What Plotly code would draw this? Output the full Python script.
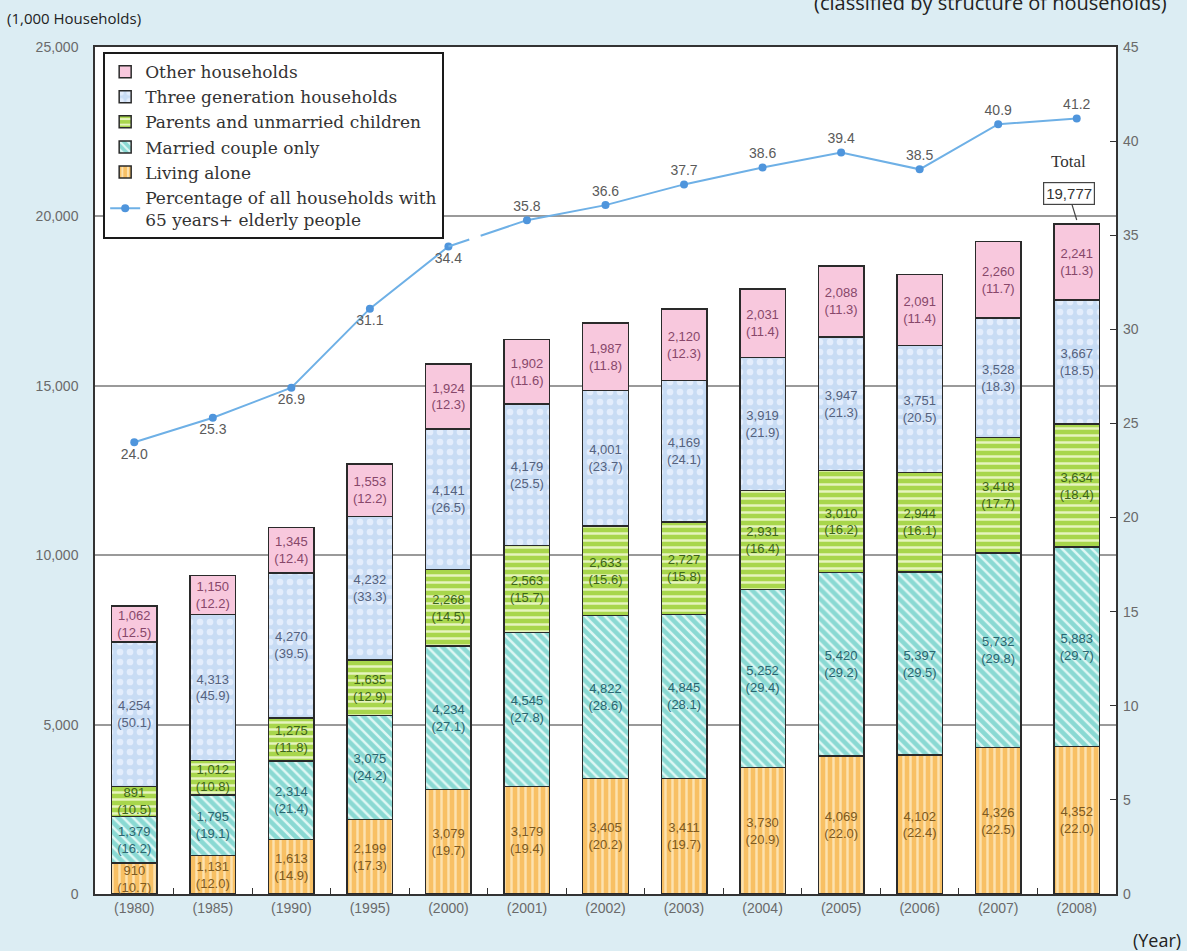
import plotly.graph_objects as go

years = ["1980", "1985", "1990", "1995", "2000", "2001", "2002", "2003", "2004", "2005", "2006", "2007", "2008"]

living_alone = [910, 1131, 1613, 2199, 3079, 3179, 3405, 3411, 3730, 4069, 4102, 4326, 4352]
living_alone_pct = [10.7, 12.0, 14.9, 17.3, 19.7, 19.4, 20.2, 19.7, 20.9, 22.0, 22.4, 22.5, 22.0]

married_couple = [1379, 1795, 2314, 3075, 4234, 4545, 4822, 4845, 5252, 5420, 5397, 5732, 5883]
married_couple_pct = [16.2, 19.1, 21.4, 24.2, 27.1, 27.8, 28.6, 28.1, 29.4, 29.2, 29.5, 29.8, 29.7]

parents_children = [891, 1012, 1275, 1635, 2268, 2563, 2633, 2727, 2931, 3010, 2944, 3418, 3634]
parents_children_pct = [10.5, 10.8, 11.8, 12.9, 14.5, 15.7, 15.6, 15.8, 16.4, 16.2, 16.1, 17.7, 18.4]

three_generation = [4254, 4313, 4270, 4232, 4141, 4179, 4001, 4169, 3919, 3947, 3751, 3528, 3667]
three_generation_pct = [50.1, 45.9, 39.5, 33.3, 26.5, 25.5, 23.7, 24.1, 21.9, 21.3, 20.5, 18.3, 18.5]

other = [1062, 1150, 1345, 1553, 1924, 1902, 1987, 2120, 2031, 2088, 2091, 2260, 2241]
other_pct = [12.5, 12.2, 12.4, 12.2, 12.3, 11.6, 11.8, 12.3, 11.4, 11.3, 11.4, 11.7, 11.3]

elderly_pct = [24.0, 25.3, 26.9, 31.1, 34.4, 35.8, 36.6, 37.7, 38.6, 39.4, 38.5, 40.9, 41.2]

x_labels = [f"({y})" for y in years]

series = [
    ("Living alone", living_alone, living_alone_pct, "#f8c064", "|", "#fde6b8", 0.9, 7, "#7d5a22", 5),
    ("Married couple only", married_couple, married_couple_pct, "#8ad9d3", "\\", "#e8fbf8", 0.9, 7, "#2b6670", 4),
    ("Parents and unmarried children", parents_children, parents_children_pct, "#a8d64c", "-", "#eef8cc", 0.9, 7, "#3c6418", 3),
    ("Three generation households", three_generation, three_generation_pct, "#c8dcf4", ".", "#eef4ff", 0.7, 10, "#55627e", 2),
    ("Other households", other, other_pct, "#f8c8dd", "", "#ffffff", 1.0, 7, "#87476a", 1),
]

fig = go.Figure()

for name, vals, pcts, color, shape, fg, fgop, psize, tcol, rank in series:
    texts = [f"{v:,}<br>({p:.1f})" for v, p in zip(vals, pcts)]
    marker = dict(color=color, line=dict(color="#2a2a2a", width=1.5))
    if shape:
        marker["pattern"] = dict(shape=shape, fgcolor=fg, fillmode="overlay", size=psize,
                                 solidity=0.35, fgopacity=fgop)
    fig.add_trace(go.Bar(
        x=x_labels, y=vals, name=name, marker=marker,
        text=texts, textposition="inside", insidetextanchor="middle",
        textangle=0, constraintext="none",
        textfont=dict(family="Liberation Sans Narrow, Arial Narrow, Liberation Sans, sans-serif", size=13, color=tcol),
        legendrank=rank, width=0.58,
    ))

line_color = "#6eb0e6"
marker_color = "#4f95dc"
label_font = dict(family="Liberation Sans, Arial, sans-serif", size=14, color="#5a5a5a")

# first segment (1980-2000)
fig.add_trace(go.Scatter(
    x=x_labels[:5], y=elderly_pct[:5], yaxis="y2", mode="lines+markers+text",
    name="Percentage of all households with<br>65 years+ elderly people",
    line=dict(color=line_color, width=2), marker=dict(color=marker_color, size=8),
    text=[f"{v:.1f}" for v in elderly_pct[:5]], textposition="bottom center",
    textfont=label_font, legendrank=6, cliponaxis=False,
))
# broken connector between 2000 and 2001
fig.add_trace(go.Scatter(
    x=x_labels[4:6], y=elderly_pct[4:6], yaxis="y2", mode="lines",
    line=dict(color=line_color, width=2, dash="22px,12px,80px"),
    showlegend=False, hoverinfo="skip",
))
# second segment (2001-2008)
fig.add_trace(go.Scatter(
    x=x_labels[5:], y=elderly_pct[5:], yaxis="y2", mode="lines+markers+text",
    line=dict(color=line_color, width=2), marker=dict(color=marker_color, size=8),
    text=[f"{v:.1f}" for v in elderly_pct[5:]], textposition="top center",
    textfont=label_font, showlegend=False, cliponaxis=False,
))

total_last = living_alone[-1] + married_couple[-1] + parents_children[-1] + three_generation[-1] + other[-1]

axis_font = dict(family="Liberation Sans, Arial, sans-serif", size=14, color="#6a6a6a")
bg = "#dcedf3"

fig.update_layout(
    width=1187, height=951,
    paper_bgcolor=bg, plot_bgcolor="#ffffff",
    margin=dict(l=95, r=71, t=47, b=57),
    barmode="stack",
    showlegend=True,
    legend=dict(
        x=0.008, y=0.994, xanchor="left", yanchor="top",
        bgcolor="#ffffff", bordercolor="#1a1a1a", borderwidth=2,
        font=dict(family="DejaVu Serif, Liberation Serif, serif", size=17, color="#333333"),
        traceorder="normal", tracegroupgap=0, itemwidth=30,
    ),
    xaxis=dict(
        type="category", range=[-0.5, 12.5], tickfont=axis_font, showline=True,
        linecolor="#333333", linewidth=1.5,
        mirror=True, ticks="inside", tickson="boundaries", ticklen=6, tickcolor="#333333",
        showgrid=False,
    ),
    yaxis=dict(
        range=[0, 25000], dtick=5000, tickformat=",", tickfont=axis_font,
        showgrid=True, gridcolor="#9a9a9a", gridwidth=1.5,
        showline=True, linecolor="#333333", linewidth=1.5, mirror=True,
        zeroline=False, ticks="", ticklabelstandoff=12,
    ),
    yaxis2=dict(
        range=[0, 45], dtick=5, overlaying="y", side="right", tickfont=axis_font,
        showgrid=False, zeroline=False, ticks="inside", ticklen=6, tickcolor="#333333",
        ticklabelstandoff=6,
    ),
    annotations=[
        dict(text="(1,000 Households)", xref="paper", yref="paper", x=-0.088, y=1.034,
             xanchor="left", yanchor="middle", showarrow=False,
             font=dict(family="Open Sans, Liberation Sans, sans-serif", size=15, color="#222222")),
        dict(text="(classified by structure of households)", xref="paper", yref="paper", x=0.702, y=1.053,
             xanchor="left", yanchor="middle", showarrow=False,
             font=dict(family="Open Sans, Liberation Sans, sans-serif", size=20, color="#222222")),
        dict(text="(Year)", xref="paper", yref="paper", x=1.066, y=-0.054,
             xanchor="right", yanchor="middle", showarrow=False,
             font=dict(family="Open Sans, Liberation Sans, sans-serif", size=18, color="#222222")),
        dict(text=f"{total_last:,}", x=x_labels[-1], y=total_last, xref="x", yref="y",
             showarrow=True, arrowhead=0, arrowcolor="#444444", arrowwidth=1.2,
             ax=-8, ay=-26, yshift=4,
             bordercolor="#444444", borderwidth=1.2, borderpad=2, bgcolor="#ffffff",
             font=dict(family="Liberation Sans Narrow, Arial Narrow, Liberation Sans, sans-serif", size=15, color="#333333")),
        dict(text="Total", x=x_labels[-1], y=total_last, xref="x", yref="y",
             showarrow=False, xshift=-8, yshift=62,
             font=dict(family="Liberation Serif, Times New Roman, serif", size=17, color="#333333")),
    ],
)

fig.write_html(
    "out.html",
    config={"displayModeBar": False},
    post_script=f"document.body.style.margin='0';document.body.style.background='{bg}';document.documentElement.style.overflow='hidden';",
)
